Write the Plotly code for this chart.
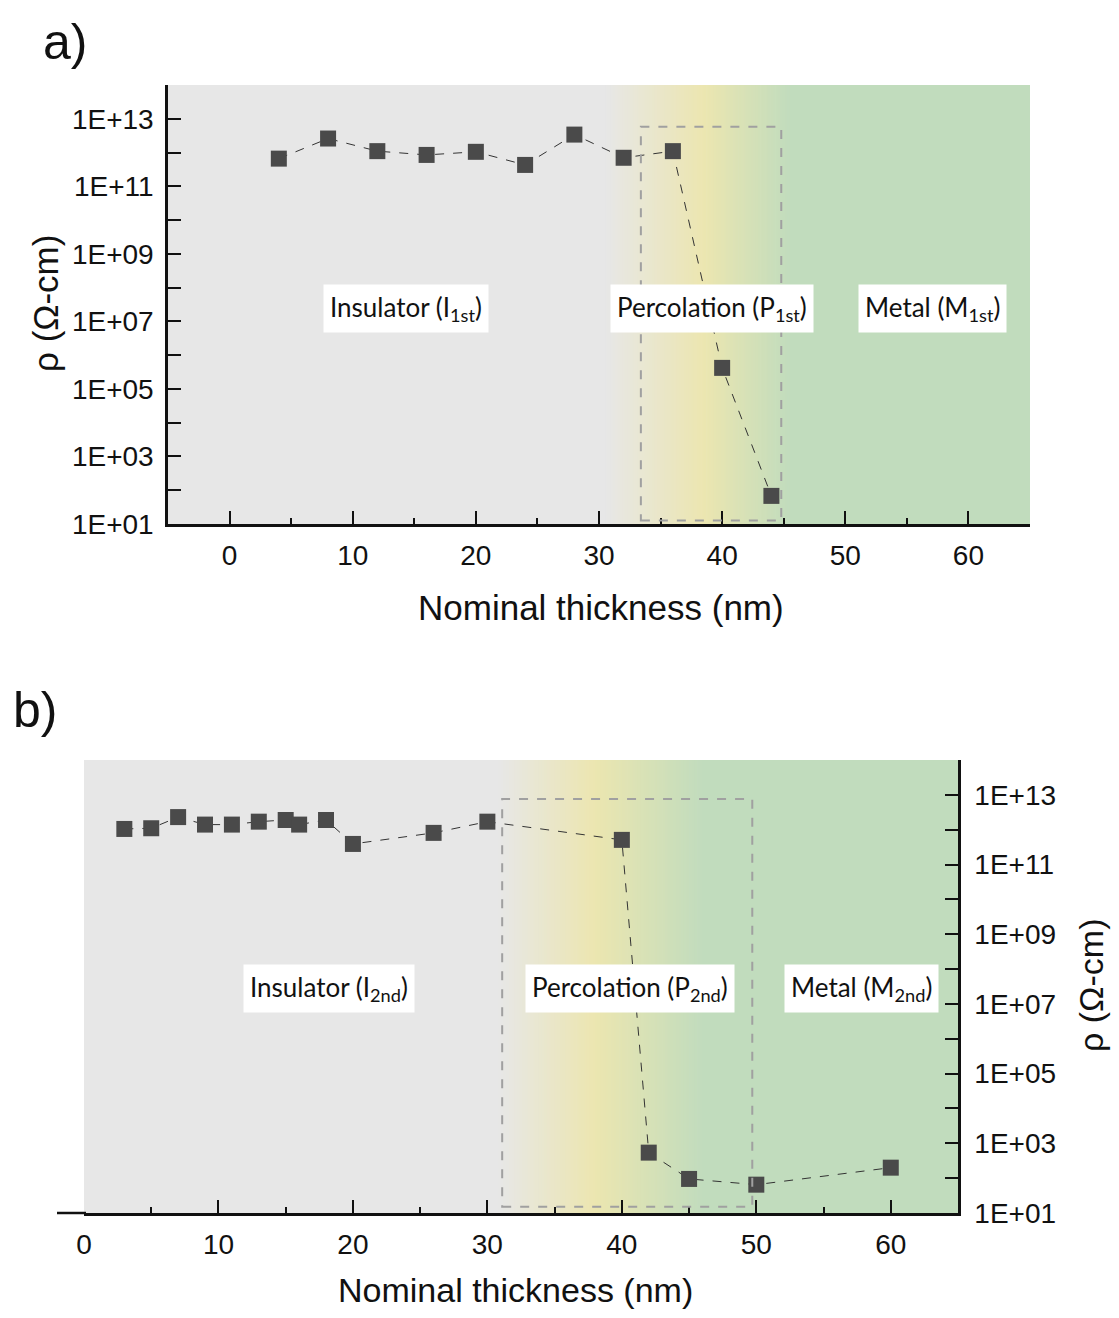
import plotly.graph_objects as go

# ---------------- data ----------------
thick_a = [4, 8, 12, 16, 20, 24, 28, 32, 36, 40, 44]
rho_a = [6.6e11, 2.6e12, 1.1e12, 8.5e11, 1.05e12, 4.3e11, 3.4e12, 7.0e11, 1.1e12, 4.2e5, 68]

thick_b = [3, 5, 7, 9, 11, 13, 15, 16, 18, 20, 26, 30, 40, 42, 45, 50, 60]
rho_b = [1.05e12, 1.1e12, 2.3e12, 1.4e12, 1.4e12, 1.7e12, 1.9e12, 1.4e12, 1.9e12,
         3.9e11, 8.1e11, 1.7e12, 5.1e11, 540, 95, 65, 200]

x_ticks = [0, 10, 20, 30, 40, 50, 60]
y_major_exp = [1, 3, 5, 7, 9, 11, 13]
y_minor_exp = [2, 4, 6, 8, 10, 12, 14]
y_tickvals = [10 ** e for e in y_major_exp]
y_ticktext = ["1E+%02d" % e for e in y_major_exp]
y_minorvals = [10 ** e for e in y_minor_exp]

region_labels_a = ["Insulator (I<sub>1st</sub>)", "Percolation (P<sub>1st</sub>)", "Metal (M<sub>1st</sub>)"]
region_labels_b = ["Insulator (I<sub>2nd</sub>)", "Percolation (P<sub>2nd</sub>)", "Metal (M<sub>2nd</sub>)"]

# ---------------- style ----------------
W, H = 1119, 1318
OFF = 8                      # page body margin
FW, FH = W - 2 * OFF, H - 2 * OFF
GRAY = (231, 231, 231)
YELLOW = (236, 230, 176)
GREEN = (193, 220, 189)
MARK = "#4a4a4a"
TICKFONT = dict(family="Liberation Sans, Arial", size=28, color="#111")
TITLEFONT = dict(family="Liberation Sans, Arial", size=35, color="#111")
BOXFONT = dict(family="Lato, Open Sans", size=26, color="#111")


def px(x):
    return (x - OFF) / FW


def py(y):
    return 1 - (y - OFF) / FH


fig = go.Figure()

fig.add_trace(go.Scatter(x=thick_a, y=rho_a, mode="lines+markers",
                         line=dict(color="#333", width=1, dash="dash"),
                         marker=dict(symbol="square", size=16, color=MARK),
                         xaxis="x", yaxis="y", showlegend=False))
fig.add_trace(go.Scatter(x=thick_b, y=rho_b, mode="lines+markers",
                         line=dict(color="#333", width=1, dash="dash"),
                         marker=dict(symbol="square", size=16, color=MARK),
                         xaxis="x2", yaxis="y2", showlegend=False))

axis_common = dict(showgrid=False, zeroline=False, showline=True, linecolor="#111",
                   linewidth=2.5, ticks="inside", tickcolor="#111", tickwidth=2,
                   tickfont=TICKFONT, mirror=False, automargin=False)
ymin = dict(ticklen=13, ticks="inside", tickcolor="#111", tickwidth=2, showgrid=False)

fig.update_layout(
    width=FW, height=FH,
    margin=dict(l=0, r=0, t=0, b=0, autoexpand=False),
    paper_bgcolor="white",
    plot_bgcolor="rgb(%d,%d,%d)" % GRAY,
    xaxis=dict(domain=[px(168), px(1030)], anchor="y", range=[-5, 65],
               tickvals=x_ticks, ticklen=13, ticklabelstandoff=5,
               minor=dict(tickvals=[-5, 5, 15, 25, 35, 45, 55, 65], ticklen=6, ticks="inside",
                          tickcolor="#111", tickwidth=2),
               **axis_common),
    yaxis=dict(domain=[py(524), py(85)], anchor="x", type="log", range=[1, 14],
               tickvals=y_tickvals, ticktext=y_ticktext, ticklen=13,
               minor=dict(tickvals=y_minorvals[:-1], **ymin),
               ticklabelstandoff=6, **axis_common),
    xaxis2=dict(domain=[px(84), px(958)], anchor="y2", range=[0, 65],
                tickvals=x_ticks, ticklen=13, ticklabelstandoff=5,
                minor=dict(tickvals=[5, 15, 25, 35, 45, 55], ticklen=6, ticks="inside",
                           tickcolor="#111", tickwidth=2),
                **axis_common),
    yaxis2=dict(domain=[py(1213), py(760)], anchor="x2", type="log", range=[1, 14],
                side="right", tickvals=y_tickvals, ticktext=y_ticktext, ticklen=13,
                minor=dict(tickvals=y_minorvals, **ymin),
                ticklabelstandoff=8, **axis_common),
)


def mix(c1, c2, t):
    return tuple(round(a + (b - a) * t) for a, b in zip(c1, c2))


def add_background(xref, yref, stops, xmax):
    # stops: list of (x, colour) for the gradient
    step = 0.2
    x = stops[0][0]
    while x < stops[-1][0]:
        xm = x + step / 2
        c = stops[-1][1]
        for (xa, ca), (xb, cb) in zip(stops[:-1], stops[1:]):
            if xa <= xm <= xb:
                c = mix(ca, cb, (xm - xa) / (xb - xa))
                break
        fig.add_shape(type="rect", xref=xref, yref=yref + " domain", x0=x, x1=x + step + 0.05,
                      y0=0, y1=1, fillcolor="rgb(%d,%d,%d)" % c, line=dict(width=0),
                      layer="below")
        x += step
    fig.add_shape(type="rect", xref=xref, yref=yref + " domain", x0=stops[-1][0], x1=xmax,
                  y0=0, y1=1, fillcolor="rgb(%d,%d,%d)" % stops[-1][1], line=dict(width=0),
                  layer="below")


add_background("x", "y", [(30.5, GRAY), (38.5, YELLOW), (45.5, GREEN)], 65)
add_background("x2", "y2", [(30.8, GRAY), (38.0, YELLOW), (46.0, GREEN)], 65)

# dashed boxes
fig.add_shape(type="rect", xref="x", yref="y", x0=33.4, x1=44.8, y0=10 ** 1.1, y1=10 ** 12.76,
              line=dict(color="#a0a0a0", width=2, dash="dash"), layer="above")
fig.add_shape(type="rect", xref="x2", yref="y2", x0=31.1, x1=49.7, y0=10 ** 1.18, y1=10 ** 12.88,
              line=dict(color="#a0a0a0", width=2, dash="dash"), layer="above")

# region labels
for txt, xx in zip(region_labels_a, [14.3, 39.2, 57.1]):
    fig.add_annotation(text=txt, x=xx, y=7.38, xref="x", yref="y", showarrow=False,
                       xanchor="center", yanchor="middle",
                       font=BOXFONT, bgcolor="white", borderpad=6)
for txt, xx in zip(region_labels_b, [18.2, 40.6, 57.8]):
    fig.add_annotation(text=txt, x=xx, y=7.45, xref="x2", yref="y2", showarrow=False,
                       xanchor="center", yanchor="middle",
                       font=BOXFONT, bgcolor="white", borderpad=6)


def paper_text(txt, x, y, font, angle=0):
    fig.add_annotation(text=txt, x=px(x), y=py(y), xref="paper", yref="paper",
                       xanchor="center", yanchor="middle", showarrow=False,
                       font=font, textangle=angle)


# axis titles
paper_text("Nominal thickness (nm)", 601, 607, TITLEFONT)
paper_text("Nominal thickness (nm)", 515, 1290, dict(TITLEFONT, size=34))
paper_text("ρ (Ω-cm)", 45, 304, TITLEFONT, -90)
paper_text("ρ (Ω-cm)", 1091, 985, dict(TITLEFONT, size=34), -90)

# panel labels
LABELFONT = dict(family="Liberation Sans, Arial", size=50, color="#111")
paper_text("a)", 65, 42, LABELFONT)
paper_text("b)", 35, 710, LABELFONT)

# x axis line of panel b extends slightly left of plot area
fig.add_shape(type="line", xref="paper", yref="paper", x0=px(57), x1=px(86), y0=py(1213), y1=py(1213),
              line=dict(color="#111", width=2.5))

fig.write_html("out.html")
